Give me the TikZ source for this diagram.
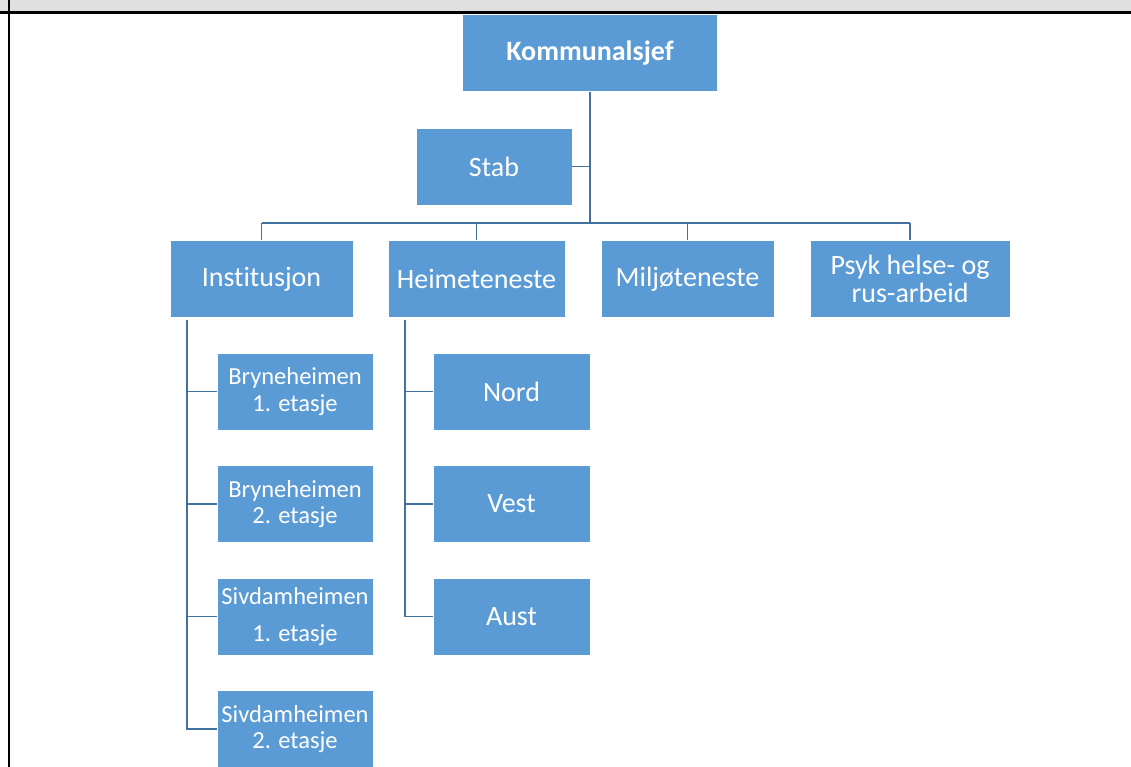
\documentclass[tikz,border=0pt]{standalone}
\usepackage{fontspec}
\setmainfont{Carlito}[Ligatures=NoCommon]
\usepackage{tikz}
\definecolor{boxblue}{HTML}{5B9BD5}
\definecolor{lineblue}{HTML}{41719C}
\definecolor{bandgray}{HTML}{E0E0E0}
\tikzstyle{unit} = [draw=white, line width=0.8pt, fill=boxblue, text=white, align=center, inner sep=2pt, minimum height=77pt, font=\fontsize{28}{28}\selectfont]
\tikzstyle{subunit} = [unit, minimum width=156pt, font=\fontsize{24.5}{26.5}\selectfont]
\tikzstyle{link} = [lineblue, line width=1.8pt]

\begin{document}
\begin{tikzpicture}[x=1pt, y=-1pt]

   % Frame of the page
   \useasboundingbox (0,0) rectangle (1131,767);
   \clip (0,0) rectangle (1131,767);
   \fill[bandgray] (0,0) rectangle (1131,12);
   \draw[line width=2.5pt] (0,12.5) -- (1131,12.5);
   \draw[line width=2.5pt] (9.2,0) -- (9.2,767);

   % Top level
   \node[unit, minimum width=255pt, font=\bfseries\fontsize{28}{28}\selectfont] (kommunalsjef) at (590,53) {Kommunalsjef};
   \node[unit, minimum width=156pt] (stab) at (494,166.5) {Stab};

   % Departments
   \node[unit, minimum width=183pt] (institusjon) at (261.5,279) {Institusjon};
   \node[unit, minimum width=177pt] (heimeteneste) at (476.5,279) {Heimeteneste};
   \node[unit, minimum width=173pt] (miljo) at (687.5,279) {Miljøteneste};
   \node[unit, minimum width=200pt] (psyk) at (910,279) {Psyk helse- og\\rus-arbeid};

   % Under Institusjon
   \node[subunit] (bryne1) at (295,391.5) {Bryneheimen\\1. etasje};
   \node[subunit] (bryne2) at (295,504) {Bryneheimen\\2. etasje};
   \node[subunit] (sivdam1) at (295,616.5) {Sivdamheimen\\[11pt]1. etasje};
   \node[subunit] (sivdam2) at (295,729) {Sivdamheimen\\2. etasje};

   % Under Heimeteneste
   \node[unit, minimum width=157pt] (nord) at (511.5,391.5) {Nord};
   \node[unit, minimum width=157pt] (vest) at (511.5,504) {Vest};
   \node[unit, minimum width=157pt] (aust) at (511.5,616.5) {Aust};

   % Connectors
   \coordinate (split) at (590,223);
   \coordinate (ispine) at (187,320);
   \coordinate (hspine) at (405,320);
   \draw[link] (kommunalsjef.south) -- (split);
   \draw[link] (stab.east) -- (stab.east -| split);
   \draw[link] (institusjon.north |- split) -- (psyk.north |- split);
   \foreach \n in {institusjon, heimeteneste, miljo, psyk}
      \draw[link] (\n.north |- split) -- (\n.north);
   \draw[link] (ispine) |- (sivdam2.west);
   \foreach \n in {bryne1, bryne2, sivdam1}
      \draw[link] (ispine |- \n.west) -- (\n.west);
   \draw[link] (hspine) |- (aust.west);
   \foreach \n in {nord, vest}
      \draw[link] (hspine |- \n.west) -- (\n.west);

\end{tikzpicture}
\end{document}
